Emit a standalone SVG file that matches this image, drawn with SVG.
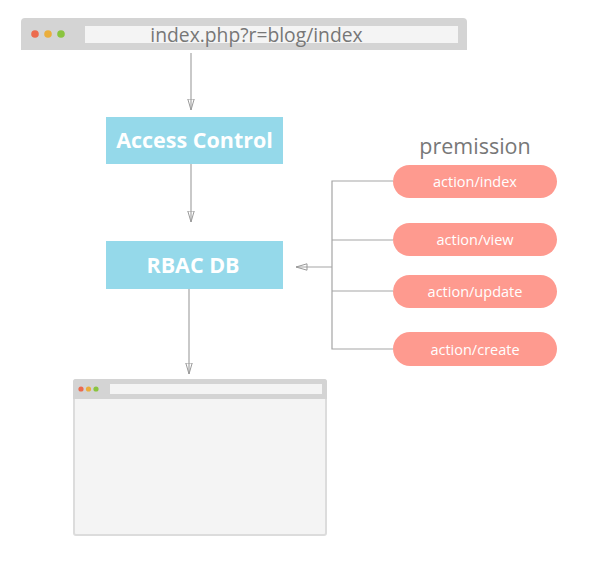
<svg xmlns="http://www.w3.org/2000/svg" width="604" height="570" viewBox="0 0 604 570">
<defs>
<marker id="arr" viewBox="0 0 12 8" refX="11.5" refY="4" markerWidth="12" markerHeight="8" markerUnits="userSpaceOnUse" orient="auto">
<path d="M0.5,0.8 L11.5,4 L0.5,7.2 Z" fill="none" stroke="#999" stroke-width="1"/>
</marker>
<style>
.conn{stroke:#a5a5a5;stroke-width:1.2;fill:none}
.box{fill:#95d9ea}
.boxt{font-family:"Open Sans","Liberation Sans",sans-serif;font-weight:bold;font-size:21.5px;fill:#fff;text-anchor:middle}
.pill{fill:#fe9a8f}
.pillt{font-family:"Open Sans","Liberation Sans",sans-serif;font-size:14.5px;fill:#fff;text-anchor:middle}
.gray{font-family:"Open Sans","Liberation Sans",sans-serif;fill:#777;text-anchor:middle}
</style>
</defs>
<rect width="604" height="570" fill="#fff"/>

<g id="browser-top">
<path d="M21,50 V22 a4,4 0 0 1 4,-4 H463 a4,4 0 0 1 4,4 V50 Z" fill="#d4d4d4"/>
<rect x="85" y="26" width="373" height="17" fill="#f4f4f4"/>
<circle cx="35" cy="34" r="3.8" fill="#ec6b4e"/>
<circle cx="48" cy="34" r="3.8" fill="#eaae3c"/>
<circle cx="61" cy="34" r="3.8" fill="#8ac43f"/>
<text class="gray" x="256.5" y="41.5" font-size="19.3">index.php?r=blog/index</text>
</g>

<g id="access-control">
<rect class="box" x="106" y="117" width="177" height="47"/>
<text class="boxt" x="194.5" y="148">Access Control</text>
</g>

<g id="rbac-db">
<rect class="box" x="106" y="241" width="177" height="48"/>
<text class="boxt" x="193" y="272.5">RBAC DB</text>
</g>

<g id="premission-label">
<text class="gray" x="475" y="154" font-size="21.5">premission</text>
</g>

<g id="p-index">
<rect class="pill" x="393" y="165" width="164" height="33" rx="16.5"/>
<text class="pillt" x="475" y="187">action/index</text>
</g>
<g id="p-view">
<rect class="pill" x="393" y="223" width="164" height="33" rx="16.5"/>
<text class="pillt" x="475" y="245">action/view</text>
</g>
<g id="p-update">
<rect class="pill" x="393" y="275" width="164" height="33" rx="16.5"/>
<text class="pillt" x="475" y="297">action/update</text>
</g>
<g id="p-create">
<rect class="pill" x="393" y="332" width="164" height="34" rx="17"/>
<text class="pillt" x="475" y="354.5">action/create</text>
</g>

<g id="browser-bottom">
<rect x="74" y="380" width="252" height="155" rx="2" fill="#f4f4f4" stroke="#dcdcdc" stroke-width="2"/>
<path d="M73,399 V382 a3,3 0 0 1 3,-3 H324 a3,3 0 0 1 3,3 V399 Z" fill="#d4d4d4"/>
<rect x="110" y="384" width="212" height="10" fill="#f4f4f4"/>
<circle cx="81" cy="389" r="2.6" fill="#ec6b4e"/>
<circle cx="88.5" cy="389" r="2.6" fill="#eaae3c"/>
<circle cx="96" cy="389" r="2.6" fill="#8ac43f"/>
</g>

<g id="connectors">
<line class="conn" x1="191" y1="53" x2="191" y2="110" marker-end="url(#arr)"/>
<line class="conn" x1="191" y1="164" x2="191" y2="222" marker-end="url(#arr)"/>
<line class="conn" x1="189" y1="289" x2="189" y2="374" marker-end="url(#arr)"/>
<path class="conn" d="M393,181 H332 V349 H393 M332,240 H393 M332,291 H393"/>
<line class="conn" x1="332" y1="267" x2="296" y2="267" marker-end="url(#arr)"/>
</g>
</svg>
